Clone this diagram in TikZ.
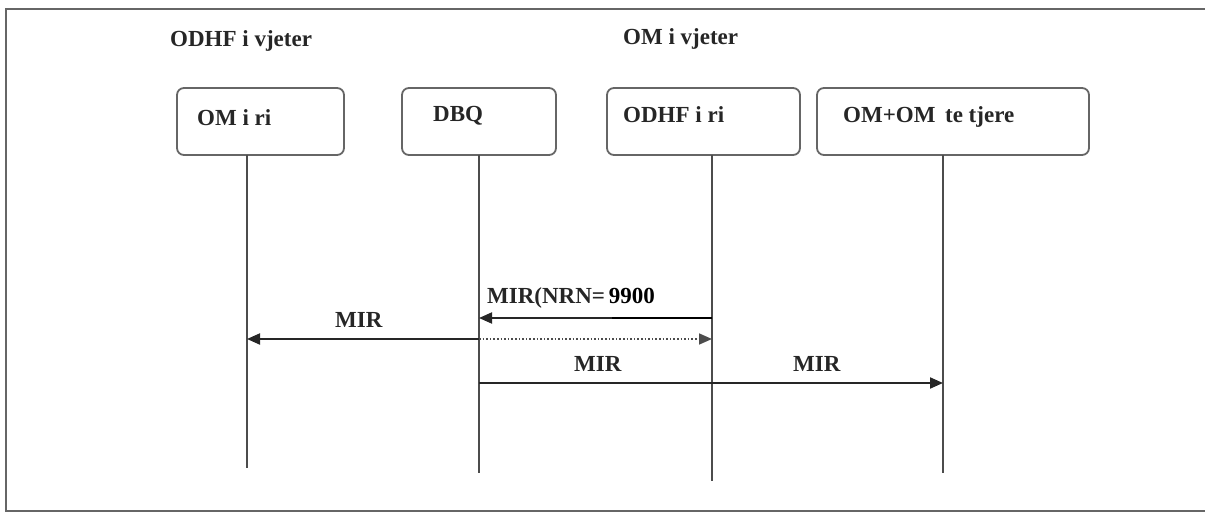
\documentclass[tikz,border=0pt]{standalone}
\usepackage{fontspec}
\setmainfont{Liberation Serif}
\usetikzlibrary{arrows.meta}
\begin{document}
\begin{tikzpicture}[x=1pt,y=-1pt,
  lbl/.style={font=\fontsize{23}{27}\selectfont\bfseries, text=black!85, anchor=base west, inner sep=0pt},
  pbox/.style={draw=black!60, line width=1.8pt, rounded corners=7pt},
  life/.style={draw=black!70, line width=2pt},
  msg/.style={draw=black!85, line width=2pt, -{Triangle[length=13pt,width=11pt]}},
  dmsg/.style={draw=black!70, line width=1.6pt, dotted, -{Triangle[length=13pt,width=11pt]}},
  frame/.style={draw=black!60, line width=1.6pt}]
\useasboundingbox (0,0) rectangle (1205,513);
\draw[frame] (1205,9) -- (6,9) -- (6,511) -- (1205,511);
% boxes
\draw[pbox] (177,88) rectangle (344,155);
\draw[pbox] (402,88) rectangle (556,155);
\draw[pbox] (607,88) rectangle (800,155);
\draw[pbox] (817,88) rectangle (1089,155);
\node[lbl] (tOdhfV) at (170,47) {ODHF i vjeter};
\node[lbl] (tOmV) at (623,45) {OM i vjeter};
\node[lbl] (tOmRi) at (197,126) {OM i ri};
\node[lbl] (tDbq) at (433,122) {DBQ};
\node[lbl] (tOdhfRi) at (623,123) {ODHF i ri};
\node[lbl] (tOmOm) at (843,123) {OM+OM\, te tjere};
% lifelines
\coordinate (a1) at (247,155); \coordinate (a2) at (247,468);
\coordinate (b1) at (479,155); \coordinate (b2) at (479,473);
\coordinate (c1) at (712,155); \coordinate (c2) at (712,481);
\coordinate (d1) at (943,155); \coordinate (d2) at (943,473);
\draw[life] (a1) -- (a2);
\draw[life] (b1) -- (b2);
\draw[life] (c1) -- (c2);
\draw[life] (d1) -- (d2);
% messages
\coordinate (m1s) at (712,318); \coordinate (m1e) at (479,318); \coordinate (m1k) at (612,318);
\draw[msg] (m1s) -- (m1e);
\draw[draw=black, line width=2.8pt] (m1s) -- (m1k);
\node[lbl] (l1) at (487,303) {MIR(NRN=\,{\color{black}9900}};
\coordinate (m2s) at (479,339); \coordinate (m2e) at (247,339); \coordinate (m3e) at (712,339);
\draw[msg] (m2s) -- (m2e);
\node[lbl] (l2) at (335,327) {MIR};
\draw[dmsg] (m2s) -- (m3e);
\coordinate (m4s) at (479,383); \coordinate (m4e) at (943,383);
\draw[msg] (m4s) -- (m4e);
\node[lbl] (l3) at (574,371) {MIR};
\node[lbl] (l4) at (793,371) {MIR};
\end{tikzpicture}
\end{document}
